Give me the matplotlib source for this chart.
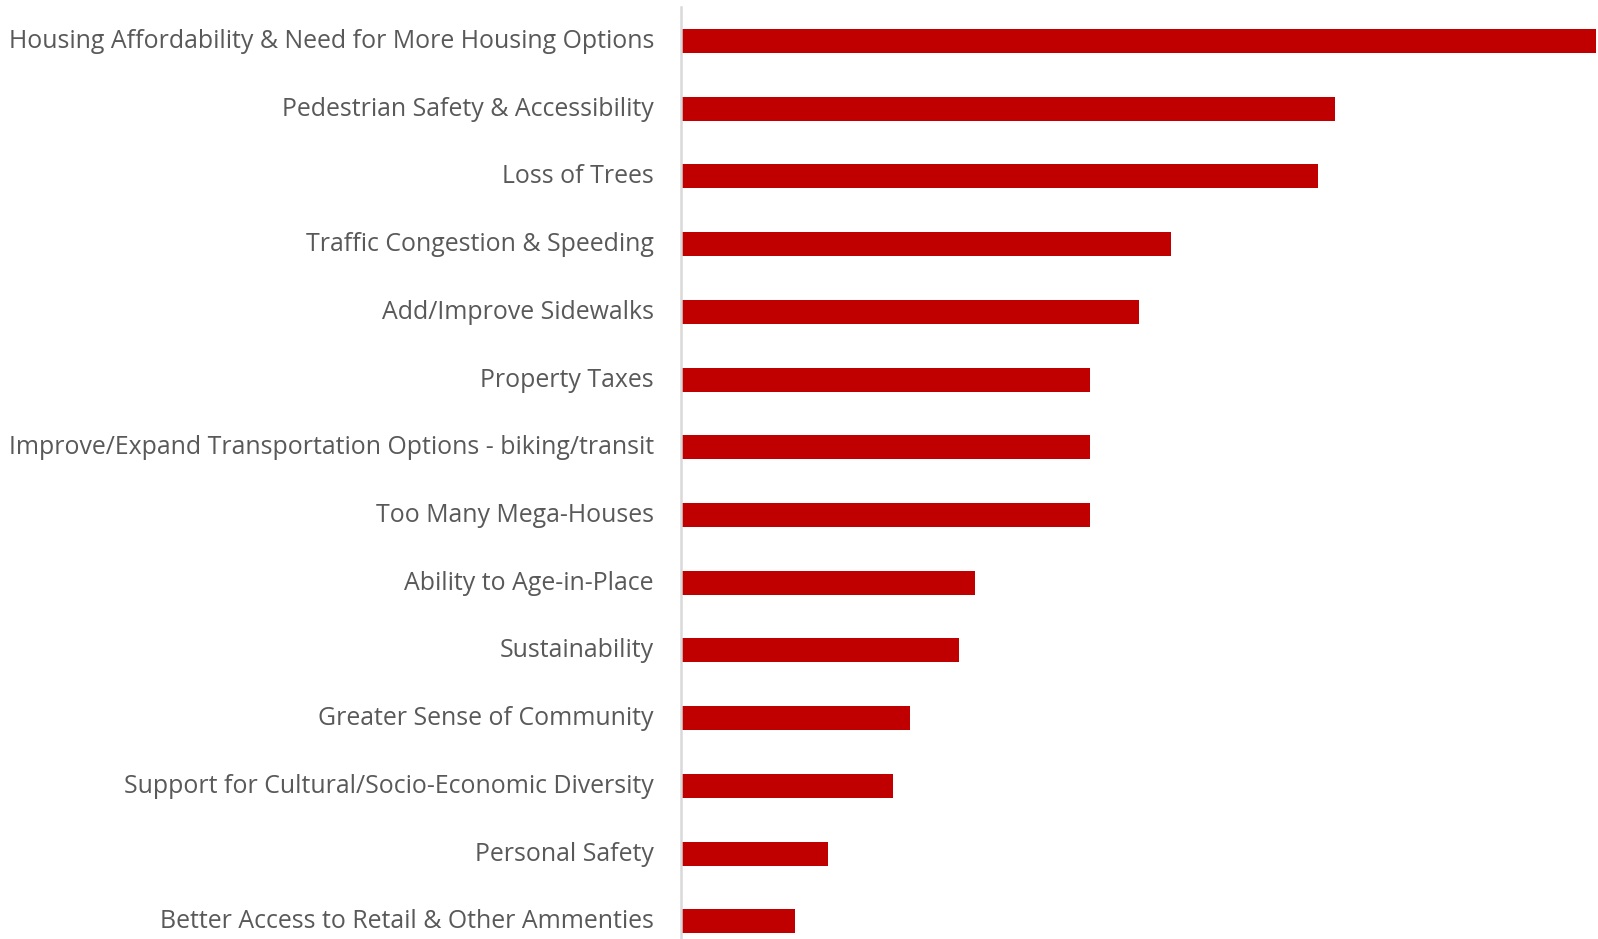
import matplotlib
matplotlib.use('Agg')
import matplotlib.pyplot as plt
import matplotlib.transforms as mtransforms
import numpy as np

# categories top to bottom
categories = [
    'Housing Affordability & Need for More Housing Options',
    'Pedestrian Safety & Accessibility',
    'Loss of Trees',
    'Traffic Congestion & Speeding',
    'Add/Improve Sidewalks',
    'Property Taxes',
    'Improve/Expand Transportation Options - biking/transit',
    'Too Many Mega-Houses',
    'Ability to Age-in-Place',
    'Sustainability',
    'Greater Sense of Community',
    'Support for Cultural/Socio-Economic Diversity',
    'Personal Safety',
    'Better Access to Retail & Other Ammenties',
]
counts = [56, 40, 39, 30, 28, 25, 25, 25, 18, 17, 14, 13, 9, 7]

plt.rcParams['font.family'] = ['Open Sans', 'DejaVu Sans']

W, H = 1598, 939
fig = plt.figure(figsize=(W / 100, H / 100), dpi=100)
left = 681 / W
top = 7 / H
ax = fig.add_axes([left, 0, 1 - left, 1 - top])

y = np.arange(len(categories))
ax.barh(y, counts, height=0.355, color='#C00000', zorder=2)

ax.set_ylim(13.26, -0.5)
ax.set_xlim(0, 56.1)
ax.set_yticks(y)
ax.set_yticklabels(categories, fontsize=17.9, color='#595959')
ax.tick_params(axis='y', length=0, pad=19.5)
ax.set_xticks([])

# nudge labels up a little
shift = mtransforms.ScaledTranslation(0, 2.5 / 100, fig.dpi_scale_trans)
for lbl in ax.get_yticklabels():
    lbl.set_transform(lbl.get_transform() + shift)

for s in ['top', 'right', 'bottom']:
    ax.spines[s].set_visible(False)
ax.spines['left'].set_color('#D9D9D9')
ax.spines['left'].set_linewidth(1.8)

fig.savefig('out.png', dpi=100)
